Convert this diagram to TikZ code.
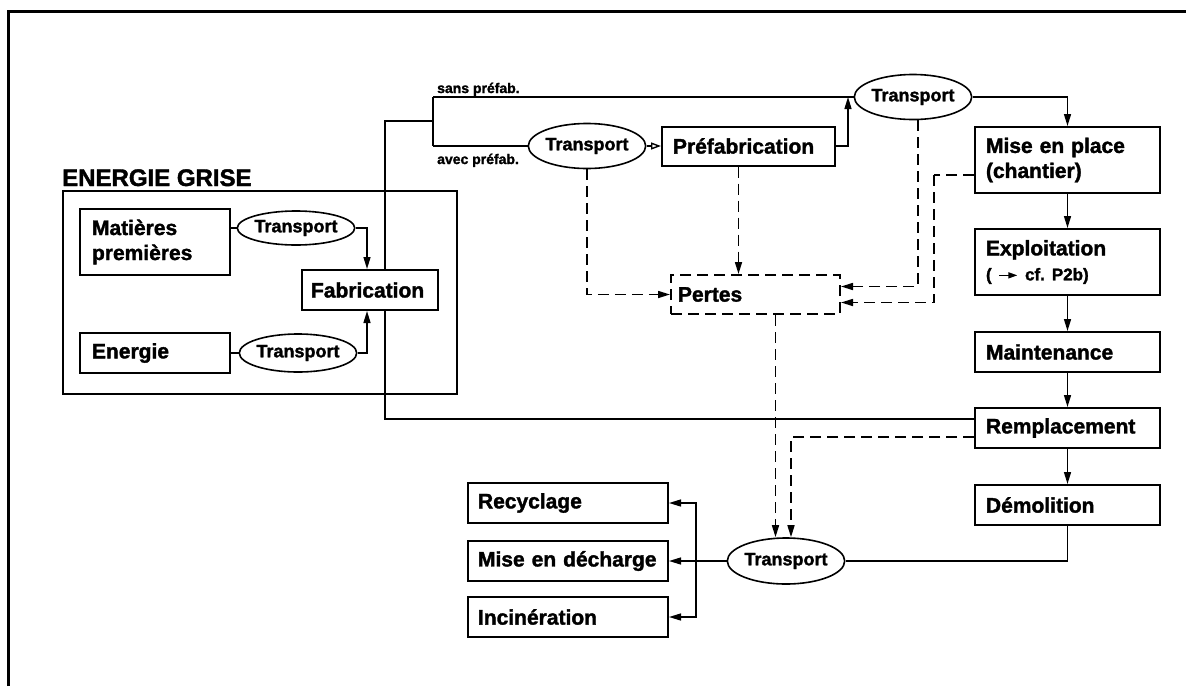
\documentclass[tikz,border=0pt]{standalone}
\usepackage{fontspec}
\setmainfont{Liberation Sans}[BoldFeatures={FakeBold=1.6}]
\usetikzlibrary{arrows.meta,shapes.geometric}
\begin{document}
\begin{tikzpicture}[x=1pt,y=-1pt,
  bx/.style={draw, line width=2pt, rectangle, inner xsep=0pt, inner ysep=2pt,
    font=\fontsize{21}{25}\selectfont\bfseries, align=left},
  ell/.style={draw, ellipse, line width=1.6pt, inner sep=0pt,
    font=\fontsize{18}{20}\selectfont\bfseries},
  lbl/.style={inner sep=0pt, font=\fontsize{14}{16}\selectfont\bfseries},
  ln/.style={line width=1.4pt},
  arr/.style={ln, -{Triangle[length=12pt,width=7pt]}},
  dsh/.style={line width=1.6pt, dash pattern=on 11pt off 6pt},
  darr/.style={dsh, -{Triangle[length=12pt,width=7pt]}},
]
\useasboundingbox (0,0) rectangle (1186,686);
\fill[white] (0,0) rectangle (1186,686);
\draw[line width=3pt] (8,686) -- (8,11) -- (1186,11);

% ENERGIE GRISE block
\node[anchor=base west, inner sep=0pt, font=\fontsize{24}{27}\selectfont\bfseries] (egt) at (62,186) {ENERGIE GRISE};
\node[draw, line width=2pt, minimum width=394, minimum height=203, inner sep=0pt] (eg) at (260,292.5) {};
\node[bx, minimum width=150, minimum height=66, text width=126] (mat) at (155,242) {Matières\\premières};
\node[bx, minimum width=150, minimum height=40, text width=126] (ene) at (155,353) {Energie};
\node[bx, minimum width=136, minimum height=40, text width=118] (fab) at (370,290) {Fabrication};
\node[ell, minimum width=110, minimum height=34] (t1) at (296,228) {Transport};
\node[ell, minimum width=110, minimum height=38] (t2) at (298,353) {Transport};

\draw[ln] (mat.east |- t1) -- (t1.west);
\draw[arr] (t1.east) -| ([xshift=-3pt]fab.north);
\draw[ln] (ene.east) -- (t2.west);
\draw[arr] (t2.east) -| ([xshift=-3pt]fab.south);

% upper branch
\coordinate (fv) at (385,121);
\coordinate (sp) at (433,121);
\coordinate (sT) at (433,97);
\coordinate (sB) at (433,146);
\node[lbl, anchor=base west] (sans) at (437,93) {sans préfab.};
\node[lbl, anchor=base west] (avec) at (437,164) {avec préfab.};
\node[ell, minimum width=108, minimum height=45] (tt) at (913,97) {Transport};
\node[ell, minimum width=110, minimum height=45] (tm) at (587,146) {Transport};
\node[bx, minimum width=173, minimum height=39, text width=151] (pre) at (748.5,146) {Préfabrication};
\coordinate (pj) at (848,97);

\draw[ln] (fab.north -| fv) |- (sp);
\draw[ln] (sT) -- (sB);
\draw[ln] (sT) -- (tt.west);
\draw[ln] (sB) -- (tm.west);
\draw[ln, -{Triangle[open,length=10pt,width=7pt]}] (tm.east) -- (pre.west);
\draw[arr] (pre.east) -| (pj);

% right column
\node[bx, minimum width=185, minimum height=66, text width=163] (mise) at (1067.5,160) {Mise en place\\(chantier)};
\node[bx, minimum width=185, minimum height=66, text width=163] (expl) at (1067.5,262) {Exploitation\\{\fontsize{17}{20}\selectfont( \tikz[baseline=-5pt]\draw[line width=1.4pt,-{Triangle[length=9pt,width=6pt]}] (0pt,0pt) -- (18pt,0pt); cf.\ P2b)}};
\node[bx, minimum width=185, minimum height=40, text width=163] (main) at (1067.5,352) {Maintenance};
\node[bx, minimum width=185, minimum height=40, text width=163] (rem) at (1067.5,428) {Remplacement};
\node[bx, minimum width=185, minimum height=40, text width=163] (dem) at (1067.5,505) {Démolition};

\draw[arr] (tt.east) -| (mise.north);
\draw[arr] (mise.south) -- (expl.north);
\draw[arr] (expl.south) -- (main.north);
\draw[arr] (main.south) -- (rem.north);
\draw[arr] (rem.south) -- (dem.north);
\draw[ln] ([yshift=9pt]rem.west) -| (fab.south -| fv);

% pertes
\node[bx, dash pattern=on 11pt off 6pt, minimum width=169, minimum height=39, text width=155] (pertes) at (755.5,294.5) {Pertes};
\coordinate (dm) at (934,175);
\draw[darr] (tm.south) |- (pertes.west);
\draw[darr] ([xshift=-10pt]pre.south) -- ([xshift=-10pt]pre.south |- pertes.north);
\draw[darr] ([xshift=5pt]tt.south) |- ([yshift=8pt]pertes.east);
\draw[dsh] ([yshift=-15pt]mise.west) -- (dm);
\draw[darr] (dm) |- ([yshift=-8pt]pertes.east);

% bottom
\node[ell, minimum width=110, minimum height=46] (tb) at (786,561) {Transport};
\node[bx, minimum width=200, minimum height=40, text width=180] (rec) at (568,503) {Recyclage};
\node[bx, minimum width=200, minimum height=40, text width=180] (dech) at (568,561) {Mise en décharge};
\node[bx, minimum width=200, minimum height=40, text width=180] (inc) at (568,617) {Incinération};
\coordinate (br) at (696,561);

\draw[ln] (dem.south) |- (tb.east);
\draw[arr] (tb.west) -- (dech.east);
\draw[arr] (br) |- (rec.east);
\draw[arr] (br) |- (inc.east);
\draw[darr] ([xshift=20pt]pertes.south) -- ([xshift=20pt]pertes.south |- tb.north);
\draw[darr] ([yshift=-9pt]rem.west) -| ([xshift=5pt]tb.north);
\end{tikzpicture}
\end{document}
